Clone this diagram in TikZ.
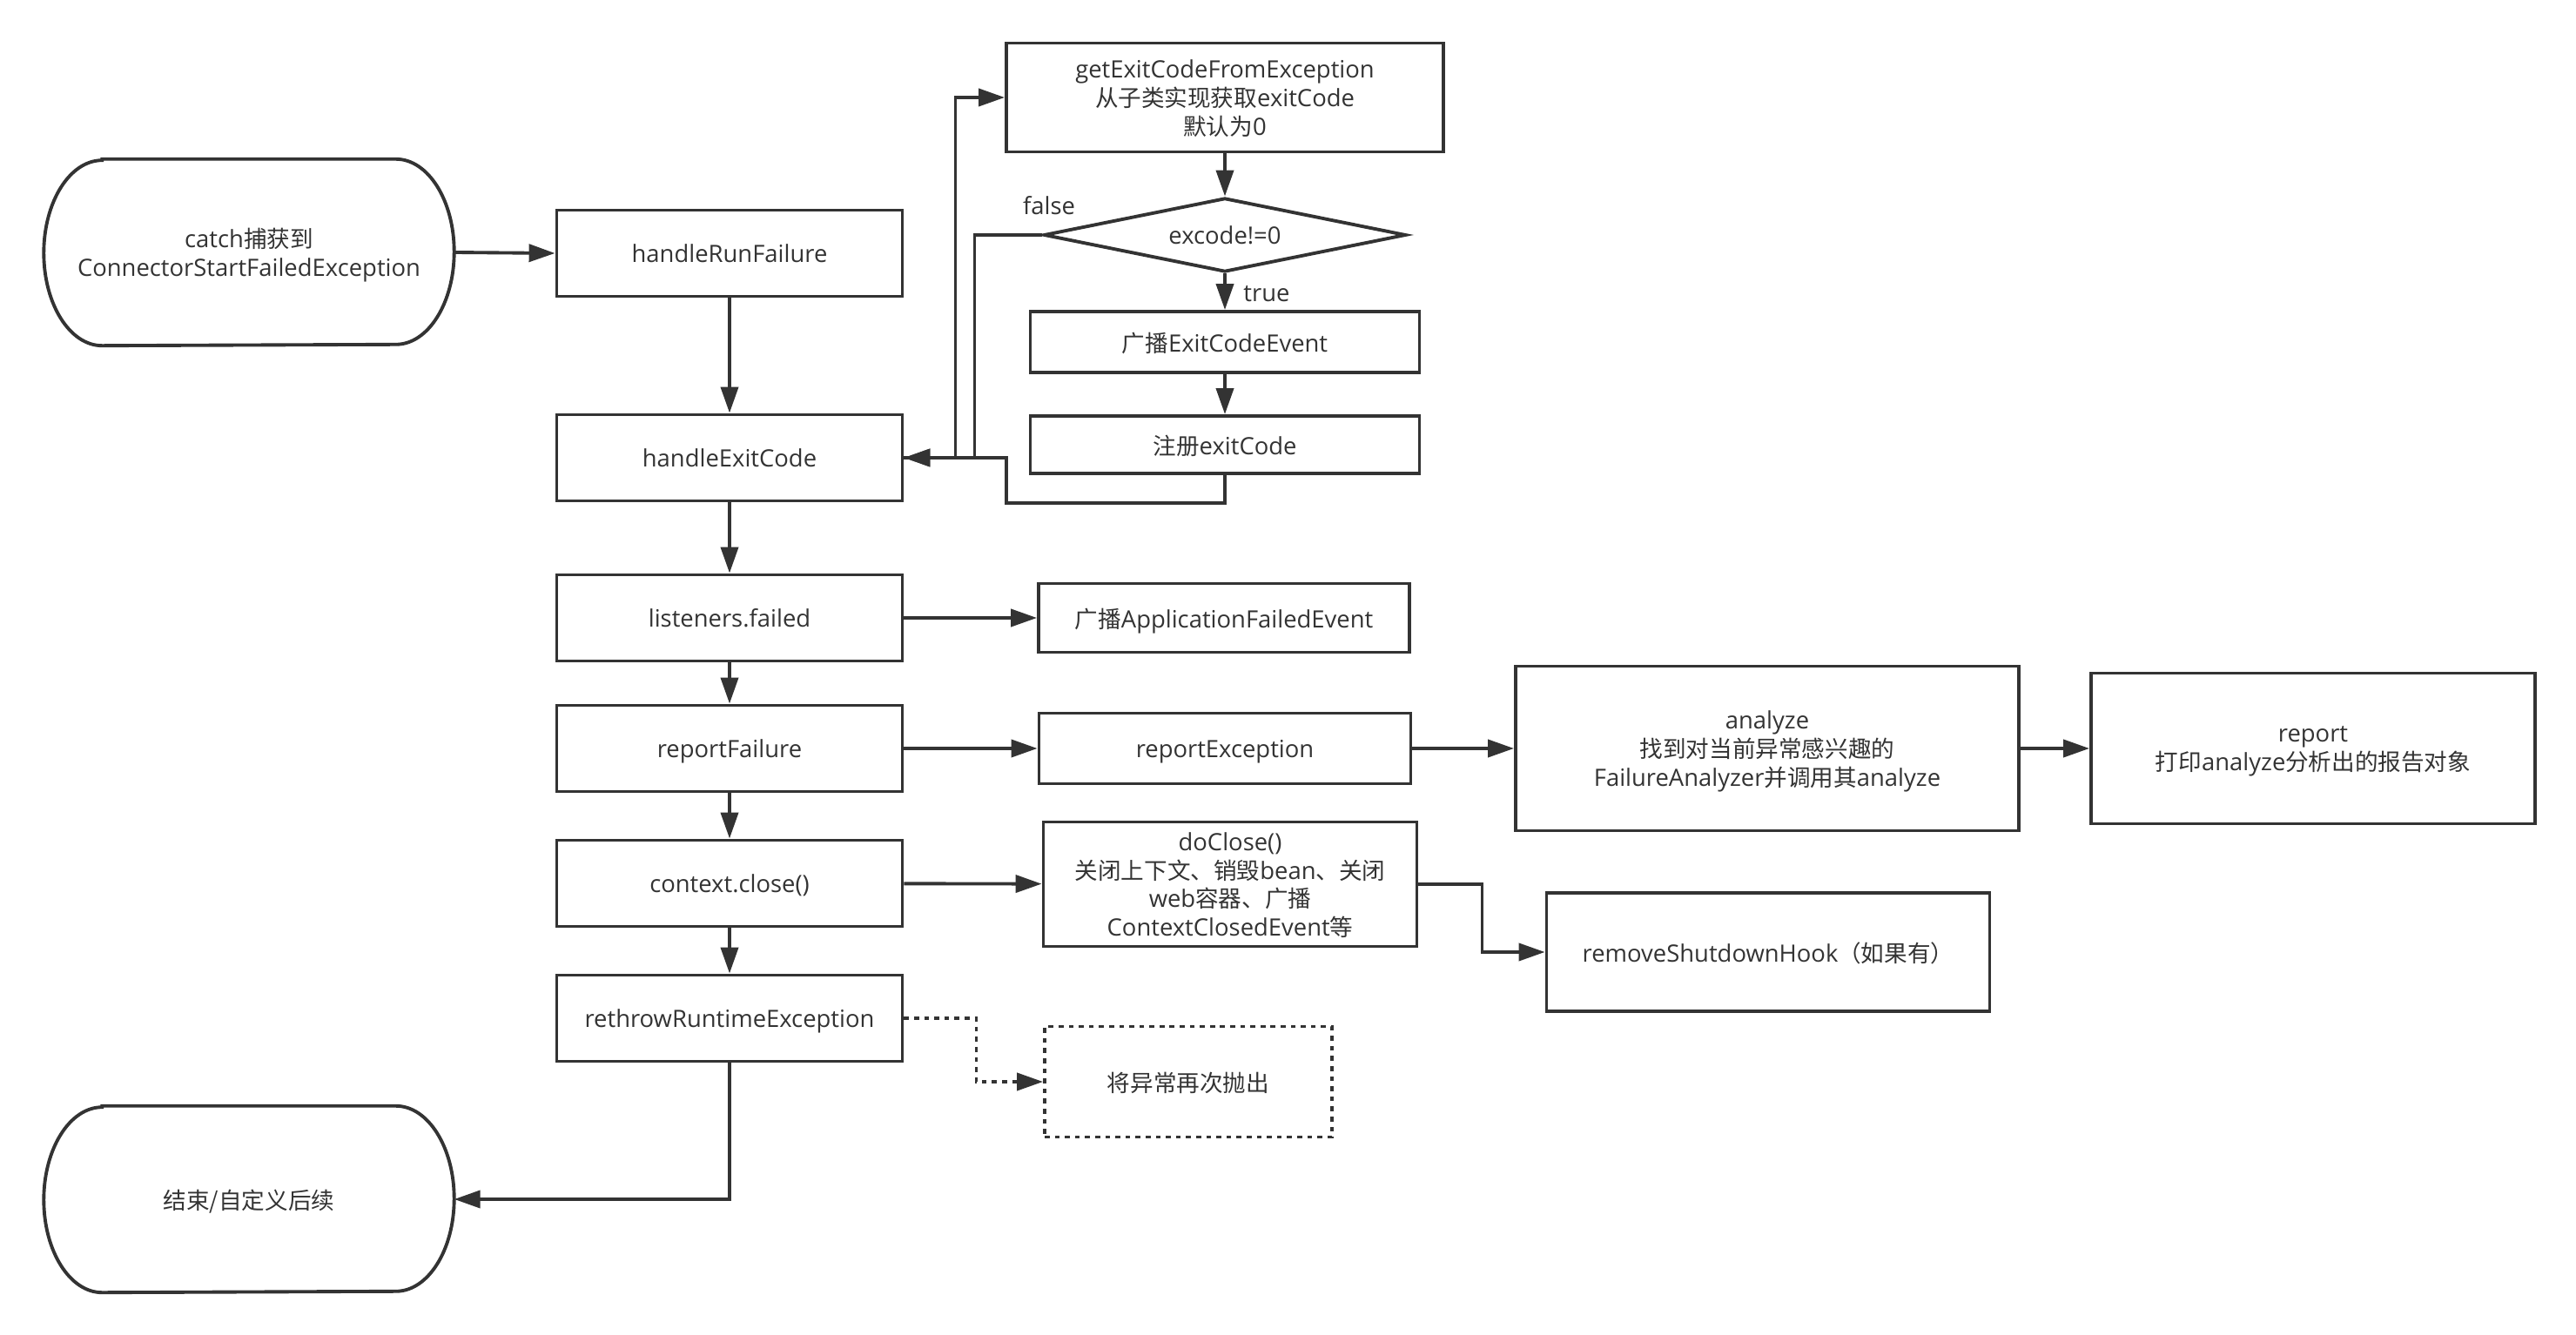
\documentclass[tikz,border=0pt]{standalone}
\usepackage{fontspec}
\setmainfont{Open Sans}
\newfontfamily\cjk[Scale=0.97]{Noto Sans CJK SC}
\usepackage{tikz}
\usetikzlibrary{arrows.meta,positioning,shapes.geometric,calc}
\usepackage{xcolor}
\definecolor{flLine}{HTML}{333333}
\definecolor{flText}{HTML}{333333}
\newcommand{\zhtxt}[1]{{\cjk #1}}
% outline with elliptic ends for start / end nodes
\newcommand{\termline}[1]{%
  \draw[outline] ([xshift=0.67cm]#1.north west) -- ([xshift=-0.67cm]#1.north east)
    arc[start angle=90,end angle=-90,x radius=0.67cm,y radius=1.065cm]
    -- ([xshift=0.67cm]#1.south west)
    arc[start angle=270,end angle=90,x radius=0.67cm,y radius=1.065cm] -- cycle;}
\tikzset{
    outline/.style={draw=flLine,line width=1.1pt},
    procbox/.style={rectangle,outline,text=flText,align=center,inner sep=2pt,text depth=-0.6pt},
    termbox/.style={rectangle,text=flText,align=center,text depth=-0.6pt,minimum width=4.7cm,minimum height=2.13cm},
    decision/.style={diamond,outline,text=flText,aspect=4.9,inner sep=0pt,minimum width=4.16cm,minimum height=0.85cm},
    flow/.style={-{Triangle[length=3mm,width=2mm]},draw=flLine,line width=1.1pt},
    dotflow/.style={flow,dash pattern=on 1.6pt off 1.7pt},
    branch/.style={text=flText}
}

\begin{document}
\begin{tikzpicture}[font=\fontsize{7.8}{9.3}\selectfont]
\useasboundingbox (0,0) rectangle (29.59,-15.34);

% main column
\node[termbox] at (2.86,-2.90) (catch) {catch\zhtxt{捕获到}\\ConnectorStartFailedException};
\termline{catch}
\node[procbox,minimum width=3.97cm,minimum height=0.99cm] at (8.38,-2.91) (runfail) {handleRunFailure};
\node[procbox,minimum width=3.97cm,minimum height=0.99cm] at (8.38,-5.26) (exitcode) {handleExitCode};
\node[procbox,minimum width=3.97cm,minimum height=0.99cm] at (8.38,-7.10) (listeners) {listeners.failed};
\node[procbox,minimum width=3.97cm,minimum height=0.99cm] at (8.38,-8.60) (reportfail) {reportFailure};
\node[procbox,minimum width=3.97cm,minimum height=0.99cm] at (8.38,-10.15) (ctxclose) {context.close()};
\node[procbox,minimum width=3.97cm,minimum height=0.99cm] at (8.38,-11.70) (rethrow) {rethrowRuntimeException};
\node[termbox] at (2.86,-13.78) (finish) {\zhtxt{结束/自定义后续}};
\termline{finish}

% exit code branch
\node[procbox,minimum width=5.02cm,minimum height=1.25cm] at (14.07,-1.12) (getcode) {getExitCodeFromException\\\zhtxt{从子类实现获取}exitCode\\\zhtxt{默认为}0};
\node[decision] at (14.07,-2.70) (excode) {excode!=0};
\node[procbox,minimum width=4.47cm,minimum height=0.70cm] at (14.07,-3.93) (broadcast) {\zhtxt{广播}ExitCodeEvent};
\node[procbox,minimum width=4.47cm,minimum height=0.66cm] at (14.07,-5.11) (register) {\zhtxt{注册}exitCode};
\node[branch] at (12.05,-2.36) (nolabel) {false};
\node[branch] at (14.55,-3.38) (yeslabel) {true};

% side steps
\node[procbox,minimum width=4.26cm,minimum height=0.79cm] at (14.06,-7.10) (appfailed) {\zhtxt{广播}ApplicationFailedEvent};
\node[procbox,minimum width=4.27cm,minimum height=0.81cm] at (14.07,-8.60) (reportexc) {reportException};
\node[procbox,minimum width=5.78cm,minimum height=1.89cm] at (20.30,-8.60) (analyze) {analyze\\\zhtxt{找到对当前异常感兴趣的}\\FailureAnalyzer\zhtxt{并调用其}analyze};
\node[procbox,minimum width=5.10cm,minimum height=1.73cm] at (26.57,-8.60) (report) {report\\\zhtxt{打印}analyze\zhtxt{分析出的报告对象}};
\node[procbox,minimum width=4.29cm,minimum height=1.43cm] at (14.13,-10.16) (doclose) {doClose()\\\zhtxt{关闭上下文、销毁}bean\zhtxt{、关闭}\\web\zhtxt{容器、广播}\\ContextClosedEvent\zhtxt{等}};
\node[procbox,minimum width=5.09cm,minimum height=1.36cm] at (20.31,-10.94) (removehook) {removeShutdownHook\zhtxt{（如果有）}};
\node[procbox,dash pattern=on 1.6pt off 1.7pt,minimum width=3.30cm,minimum height=1.27cm] at (13.65,-12.43) (rethrown) {\zhtxt{将异常再次抛出}};

% connectors
\draw[flow] (catch.east) -- (runfail.west);
\draw[flow] (runfail) -- (exitcode);
\draw[flow] (exitcode) -- (listeners);
\draw[flow] (listeners) -- (reportfail);
\draw[flow] (reportfail) -- (ctxclose);
\draw[flow] (ctxclose) -- (rethrow);
\draw[flow] (rethrow.south) |- (finish.east);

\draw[flow] (exitcode.east) -- ++(0.59,0) |- (getcode.west);
\draw[flow] (getcode) -- (excode);
\draw[flow] (excode) -- (broadcast);
\draw[flow] (broadcast) -- (register);
\draw[flow] (excode.west) -| ([xshift=0.81cm]exitcode.east) -- (exitcode.east);
\draw[flow] (register.south) -- ++(0,-0.32) -| ([xshift=1.175cm]exitcode.east) -- (exitcode.east);

\draw[flow] (listeners) -- (appfailed);
\draw[flow] (reportfail) -- (reportexc);
\draw[flow] (reportexc) -- (analyze);
\draw[flow] (analyze) -- (report);
\draw[flow] (ctxclose) -- (doclose);
\draw[flow] (doclose.east) -- ++(0.73,0) |- (removehook.west);
\draw[dotflow] (rethrow.east) -- ++(0.83,0) |- (rethrown.west);

\end{tikzpicture}
\end{document}
